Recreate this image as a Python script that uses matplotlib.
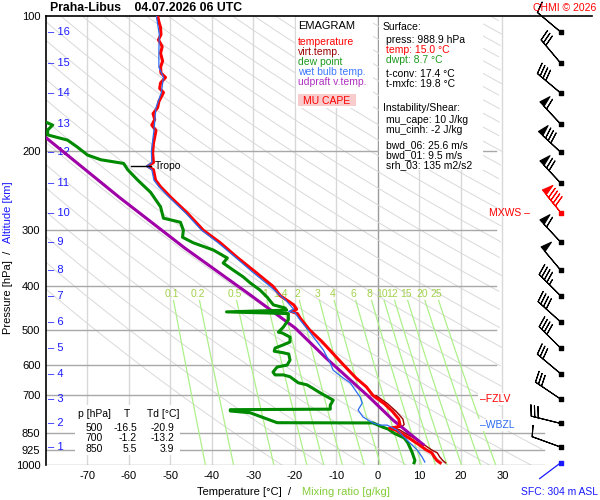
import numpy as np
import matplotlib
matplotlib.use("Agg")
import matplotlib.pyplot as plt
from matplotlib.patches import Rectangle

plt.rcParams['font.family'] = ['Liberation Sans', 'DejaVu Sans']

# ---- sounding data ----
temp_p = [988.9, 977, 960, 940, 925, 900, 870, 850, 835, 828, 822, 812, 790, 760, 730, 700,
          670, 640, 600, 560, 530, 500, 470, 460, 455, 450, 440, 420, 400, 370, 345, 320,
          300, 275, 253, 240, 232, 220, 216, 212, 202, 192, 180, 175, 170, 165, 160, 155,
          150, 148, 145, 141, 137, 134, 130, 126, 121, 117, 113, 110, 106, 103, 100]
temp_t = [15.0, 14.2, 13.6, 13.0, 11.6, 9.8, 7.4, 5.5, 4.2, 2.8, 4.8, 5.3, 5.0, 3.5, 1.5, -1.2,
          -2.8, -5.3, -8.2, -11.2, -13.6, -16.5, -18.8, -19.4, -21.0, -19.6, -20.3, -23.5, -25.3, -29.8, -33.9, -38.0,
          -42.1, -45.9, -50.0, -52.4, -53.6, -54.1, -55.5, -54.1, -54.3, -54.1, -53.5, -54.5, -53.8, -54.2, -53.1, -52.8,
          -52.0, -51.7, -52.6, -52.4, -51.2, -52.3, -52.4, -51.9, -52.4, -52.0, -52.9, -52.3, -52.4, -52.8, -53.1]

virt_p = [988.9, 977, 960, 940, 925, 900, 870, 850, 835, 828, 822, 812, 790, 760, 730, 700]
virt_t = [16.3, 15.6, 14.9, 14.3, 12.9, 11.0, 8.6, 6.6, 5.2, 3.8, 5.8, 6.3, 6.0, 4.4, 2.3, -0.5]

dwpt_p = [988.9, 977, 936, 893, 870, 850, 832, 824, 806, 805, 765, 758, 753, 751, 736, 717,
          691, 673, 663, 656, 636, 630, 630, 621, 605, 599, 584, 566, 562, 558, 549, 540,
          532, 519, 508, 506, 493, 475, 460, 456, 452, 447, 440, 423, 408, 393, 381, 368,
          355, 346, 332, 320, 311, 300, 288, 282, 266, 247, 232, 220, 213, 209, 204, 196,
          189, 184, 179.5, 175, 173, 168]
dwpt_t = [8.7, 8.9, 8.2, 7.2, 6.3, 3.9, 2.5, 1.2, -1.2, -24.3, -30.8, -35.6, -35.6, -11.5, -11.5, -10.8,
          -13.9, -15.9, -17.1, -19.2, -21.2, -22.8, -24.8, -25.3, -24.3, -21.9, -21.2, -21.5, -23.0, -25.0, -24.8, -22.8,
          -21.2, -21.2, -23.1, -24.0, -22.8, -21.6, -21.6, -36.5, -22.0, -22.4, -25.2, -26.7, -28.4, -30.8, -32.5, -34.9,
          -37.3, -36.3, -39.7, -44.5, -47.1, -46.9, -47.6, -51.7, -52.4, -54.8, -57.9, -60.3, -61.3, -66.8, -70.0, -72.4,
          -74.8, -79.6, -79.6, -78.4, -79.6, -83.0]

wetb_p = [985, 959, 925, 893, 862, 836, 815, 815, 806, 782, 754, 728, 706, 656, 640, 615,
          593, 554, 508, 475, 458, 455, 450, 430, 400, 370, 345, 320, 300, 275, 253, 240,
          232, 220, 216, 212, 200, 180, 160, 148, 137, 130, 120, 110, 100]
wetb_t = [11.3, 10.6, 9.4, 7.7, 6.0, 4.6, 2.2, 0.5, -1.2, -3.6, -4.8, -3.8, -4.3, -6.7, -8.4, -10.8,
          -11.5, -13.2, -16.3, -18.8, -20.0, -21.5, -20.3, -22.2, -26.0, -30.5, -34.3, -38.5, -42.5, -46.3, -50.4, -52.8,
          -54.0, -54.5, -55.8, -54.5, -54.6, -54.0, -53.5, -52.2, -51.7, -52.8, -52.8, -52.7, -53.4]

parcel_p = [905, 794, 702, 578, 495, 418, 329, 254, 186, 178]
parcel_t = [11.2, 3.6, -2.4, -12.5, -20.0, -30.8, -46.5, -62.2, -80.2, -82.0]

# altitude labels / wind levels
alt_km = [16, 15, 14, 13, 12, 11, 10, 9, 8, 7, 6, 5, 4, 3, 2, 1]
alt_p = [108.5, 127.3, 148.4, 174, 201, 235.5, 274.5, 318.7, 368, 420, 480, 549, 626, 713, 808, 912]
wind_dir = [310, 320, 310, 317, 313, 317, 321, 317, 320, 315, 312, 315, 310, 304, 284, 290]
wind_spd = [10, 30, 40, 60, 80, 70, 90, 60, 50, 45, 40, 40, 30, 30, 30, 10]
sfc_p = 988.9
sfc_dir = 233

mix_w = [0.1, 0.2, 0.5, 1, 1.4, 2, 3, 4, 6, 8, 10, 12, 15, 20, 25]
mix_lab = ['0.1', '0.2', '0.5', '1', '1.4', '2', '3', '4', '6', '8', '10', '12', '15', '20', '25']

p_ticks = [100, 200, 300, 400, 500, 600, 700, 850, 925, 1000]
t_ticks = [-70, -60, -50, -40, -30, -20, -10, 0, 10, 20, 30]

tab_p = [500, 700, 850]
tab_t = [-16.5, -1.2, 5.5]
tab_td = [-20.9, -13.2, 3.9]

tropo_p = 216
fzlv_p = 713
wbzl_p = 815
mxws_p = 274.5

RED = '#ff0000'
DRED = '#9a0000'
GRN = '#008a00'
BLU = '#2a6cf0'
PUR = '#a000a8'
MIXC = '#aef08a'
MIXL = '#a2d24a'
ALTC = '#1a1aff'

fig = plt.figure(figsize=(6, 5), dpi=100)
ax = fig.add_axes([46 / 600, 35 / 500, 554 / 600, 449 / 500])
ax.set_yscale('log')
ax.set_ylim(1000, 100)
ax.set_xlim(-80, 53.5)

# isotherms
for t in t_ticks:
    ax.plot([t, t], [1000, 100], color='#9a9a9a' if t == 0 else '#d8d8d8', lw=1.0, zorder=1)
# isobars
for p in p_ticks[1:]:
    tend = 40 if p >= 850 else 28.4
    ax.plot([-80, tend], [p, p], color='#a8a8a8', lw=1.0, zorder=1.2)

# dry adiabats
pp = np.logspace(2, 3, 200)
tmax = np.where(pp >= 840, 40, 30)
for th in range(250, 640, 10):
    tt = th * (pp / 1000.0) ** 0.286 - 273.15
    tt = np.where(tt > tmax, np.nan, tt)
    ax.plot(tt, pp, color='#d9d9d9', lw=0.7, zorder=1.1)

# mixing ratio lines
pm = np.linspace(430, 1000, 60)
for w, lab in zip(mix_w, mix_lab):
    e = w * pm / (622 + w)
    lg = np.log(e / 6.112)
    td = 243.5 * lg / (17.67 - lg)
    ax.plot(td, pm, color=MIXC, lw=0.9, zorder=1.3)
    e0 = w * 415 / (622 + w)
    l0 = np.log(e0 / 6.112)
    ax.text(243.5 * l0 / (17.67 - l0), 415, lab, color=MIXL, fontsize=7.5,
            ha='center', va='center', zorder=1.4)

# profiles
ax.plot(virt_t, virt_p, color=DRED, lw=1.0, zorder=4)
ax.plot(parcel_t, parcel_p, color=PUR, lw=2.2, zorder=4.5, solid_capstyle='butt')
ax.plot(dwpt_t, dwpt_p, color=GRN, lw=2.2, zorder=5)
ax.plot(temp_t, temp_p, color=RED, lw=2.2, zorder=5.5)
ax.plot(wetb_t, wetb_p, color=BLU, lw=0.9, zorder=6)

# tropopause
ax.plot([-59.5, -54.8], [tropo_p, tropo_p], color='k', lw=1.0, zorder=7)
ax.text(-53.8, tropo_p, 'Tropo', fontsize=7.5, va='center', ha='left', zorder=7)

# altitude labels
for km, p in zip(alt_km, alt_p):
    ax.text(-79.6, p, '\u2013 %d' % km, color=ALTC, fontsize=8, va='center', ha='left', zorder=3)

# wind barbs
bx = 44.0
blen = 6.6
d = np.deg2rad(wind_dir)
spd = np.array(wind_spd, dtype=float)
u = -spd * np.sin(d)
v = -spd * np.cos(d)
imax = int(np.argmax(spd))
mask = np.arange(len(spd)) != imax
bsz = dict(spacing=0.12, height=0.36, width=0.2, emptybarb=0.0)
ax.barbs(np.full(mask.sum(), bx), np.array(alt_p)[mask], u[mask], v[mask], length=blen,
         sizes=bsz, barbcolor='k', flagcolor='k', linewidth=0.8, clip_on=False, zorder=6)
ax.barbs([bx], [alt_p[imax]], [u[imax]], [v[imax]], length=blen,
         sizes=bsz, barbcolor=RED, flagcolor=RED, linewidth=0.8, clip_on=False, zorder=6)
ax.scatter(np.full(mask.sum(), bx), np.array(alt_p)[mask], marker='s', s=5, color='k', zorder=7, clip_on=False)
ax.scatter([bx], [alt_p[imax]], marker='s', s=5, color=RED, zorder=7, clip_on=False)
ds = np.deg2rad(sfc_dir)
ax.annotate('', xy=(bx, sfc_p), xytext=(19 * np.sin(ds), 19 * np.cos(ds)), textcoords='offset points',
            arrowprops=dict(arrowstyle='-', color='#1a1aff', lw=0.9, shrinkA=0, shrinkB=0), zorder=6)
ax.scatter([bx], [sfc_p], marker='s', s=5, color='#1a1aff', zorder=7, clip_on=False)

# level labels
ax.text(24.5, fzlv_p, '\u2013FZLV', color=RED, fontsize=7.5, va='center', ha='left', zorder=8,
        bbox=dict(facecolor='white', edgecolor='none', pad=1.0))
ax.text(24.5, wbzl_p, '\u2013WBZL', color=BLU, fontsize=7.5, va='center', ha='left', zorder=8,
        bbox=dict(facecolor='white', edgecolor='none', pad=1.0))
ax.text(36.5, mxws_p, 'MXWS \u2013', color=RED, fontsize=7.5, va='center', ha='right', zorder=8)

# axes styling
ax.set_xticks(t_ticks)
ax.set_xticklabels([str(t) for t in t_ticks])
ax.set_yticks(p_ticks)
ax.set_yticklabels([str(p) for p in p_ticks])
ax.minorticks_off()
ax.tick_params(length=0, labelsize=8, pad=4)
for s in ['right', 'bottom']:
    ax.spines[s].set_visible(False)
ax.spines['top'].set_bounds(-80, 51.5)
ax.spines['left'].set_linewidth(1.2)
ax.spines['top'].set_linewidth(1.2)
ax.patch.set_facecolor('white')


def box(x0, y0, x1, y1, fc='white'):
    fig.patches.append(Rectangle((x0 / 600, 1 - y1 / 500), (x1 - x0) / 600, (y1 - y0) / 500,
                                 transform=fig.transFigure, facecolor=fc, edgecolor='none', zorder=3))


def ftxt(x, y, s, **kw):
    kw.setdefault('fontsize', 7.5)
    kw.setdefault('va', 'center')
    fig.text(x / 600, 1 - y / 500, s, **kw)


# legend box
box(296, 17, 373, 108)
ftxt(298, 26, 'EMAGRAM', fontsize=8)
ftxt(298, 42, 'temperature', color=RED)
ftxt(298, 52, 'virt.temp.', color=DRED)
ftxt(298, 62, 'dew point', color='#1e9a1e')
ftxt(298, 72, 'wet bulb temp.', color='#3a78ff')
ftxt(298, 82, 'udpraft v.temp.', color='#b030c0')
box(298, 94, 356, 106, fc='#f8cccc')
ftxt(303, 101, 'MU CAPE', color=RED)

# info box
box(379, 17, 483, 170)
ftxt(383, 27, 'Surface:')
ftxt(386, 40, 'press: 988.9 hPa')
ftxt(386, 50, 'temp: 15.0 \u00b0C', color=RED)
ftxt(386, 60, 'dwpt: 8.7 \u00b0C', color='#1e9a1e')
ftxt(386, 74, 't-conv: 17.4 \u00b0C')
ftxt(386, 84, 't-mxfc: 19.8 \u00b0C')
ftxt(383, 108, 'Instability/Shear:')
ftxt(386, 120, 'mu_cape: 10 J/kg')
ftxt(386, 130, 'mu_cinh: -2 J/kg')
ftxt(386, 145, 'bwd_06: 25.6 m/s')
ftxt(386, 155, 'bwd_01: 9.5 m/s')
ftxt(386, 165, 'srh_03: 135 m2/s2')

# table
box(75, 405, 180, 455)
ftxt(78, 414, 'p [hPa]')
ftxt(127, 414, 'T', ha='center')
ftxt(147, 414, 'Td [\u00b0C]')
for i, (p, t, td) in enumerate(zip(tab_p, tab_t, tab_td)):
    yy = 428 + 10.3 * i
    ftxt(103, yy, '%d' % p, ha='right')
    ftxt(137, yy, '%.1f' % t, ha='right')
    ftxt(174, yy, '%.1f' % td, ha='right')

# titles and axis labels
ftxt(50, 8, 'Praha-Libus    04.07.2026 06 UTC', fontsize=8.8, fontweight='bold')
ftxt(596, 8, 'CHMI \u00a9 2026', color=RED, ha='right')
ftxt(598, 492, 'SFC: 304 m ASL', color='#1a1aff', ha='right')
ftxt(197, 492, 'Temperature [\u00b0C]  /', fontsize=8)
ftxt(302, 492, 'Mixing ratio [g/kg]', fontsize=8, color='#86cc3a')
fig.text(8 / 600, 1 - 334 / 500, 'Pressure [hPa]  /', rotation=90, fontsize=8, ha='center', va='bottom')
fig.text(8 / 600, 1 - 243 / 500, 'Altitude [km]', rotation=90, fontsize=8, ha='center', va='bottom', color=ALTC)

fig.savefig('out.png', dpi=100, facecolor='white')
